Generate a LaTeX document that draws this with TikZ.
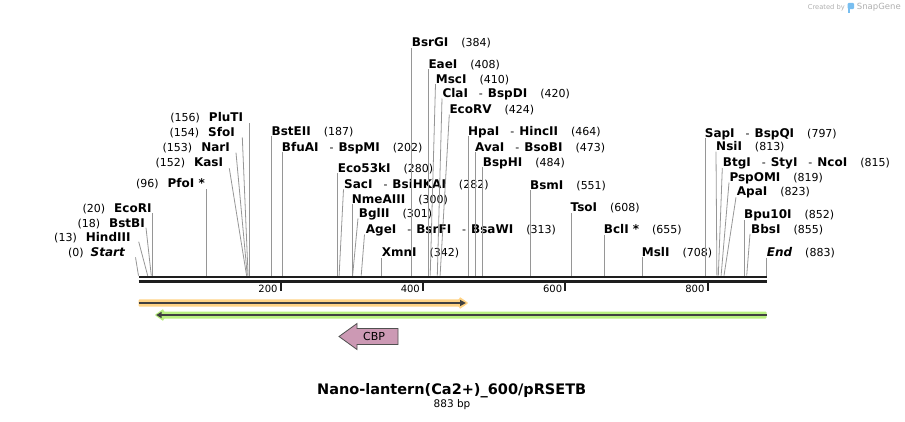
\documentclass[tikz,border=0pt]{standalone}
\usepackage{fontspec}
\setmainfont{DejaVu Sans}
\definecolor{cutgray}{RGB}{150,150,150}
\definecolor{dnablack}{RGB}{30,30,30}
\definecolor{orgband}{RGB}{255,211,133}
\definecolor{grnband}{RGB}{184,240,128}
\definecolor{featdark}{RGB}{64,64,64}
\definecolor{cbpfill}{RGB}{204,153,180}
\definecolor{cbpdraw}{RGB}{80,80,80}
\definecolor{logogray}{RGB}{175,175,175}
\definecolor{logoblue}{RGB}{120,190,240}
\newcommand{\nm}[1]{{\fontsize{12}{14}\selectfont\bfseries #1}}
\newcommand{\ps}[1]{{\fontsize{11}{13}\selectfont(#1)}}
\newcommand{\sepr}{{\fontsize{11}{13}\selectfont\hspace{11pt}-\hspace{5pt}}}
\newcommand{\gapn}{\hspace{13pt}}
% right-side label: id, x(left), y(center), content, line top x, line top y, site x
\newcommand{\siteR}[7]{%
  \node[lab,anchor=west] (#1) at (#2,#3) {#4};
  \coordinate (#1t) at (#5,#6);
  \coordinate (#1s) at (#7,275.7);
  \draw[cutline] (#1t) -- (#1s);}
% left-side label: id, x(right), y(center), content, line top x, line top y, site x
\newcommand{\siteL}[7]{%
  \node[lab,anchor=east] (#1) at (#2,#3) {#4};
  \coordinate (#1t) at (#5,#6);
  \coordinate (#1s) at (#7,275.7);
  \draw[cutline] (#1t) -- (#1s);}
\begin{document}
\begin{tikzpicture}[x=1pt,y=-1pt,
  lab/.style={inner sep=0pt,text height=8.7pt,text depth=0pt},
  cutline/.style={draw=cutgray,line width=0.8pt},
  dna/.style={draw=dnablack,line width=2.6pt},
  tickmark/.style={draw=dnablack,line width=2pt},
  ticklab/.style={inner sep=0pt,font=\fontsize{10}{12}\selectfont,anchor=east,text height=7.3pt,text depth=0pt},
]
\useasboundingbox (0,0) rectangle (905,421);

% cut site labels, left side
\siteL{Start}{125}{251.7}{\ps{0}\hspace{7pt}\nm{\itshape Start}}{135.5}{257.3}{138.5}
\siteL{HindIII}{130.7}{236.7}{\ps{13}\hspace{9pt}\nm{HindIII}}{138.7}{241.7}{147.7}
\siteL{BstBI}{145}{222.7}{\ps{18}\hspace{9pt}\nm{BstBI}}{146}{227.7}{151.3}
\siteL{EcoRI}{151.7}{207.7}{\ps{20}\hspace{9pt}\nm{EcoRI}}{152.8}{213.3}{152.8}
\siteL{PfoI}{205}{183.3}{\ps{96}\hspace{9pt}\nm{PfoI *}}{206.8}{189.3}{206.8}
\siteL{KasI}{223.3}{162.3}{\ps{152}\hspace{9pt}\nm{KasI}}{229.3}{168.3}{246.6}
\siteL{NarI}{230}{147.3}{\ps{153}\hspace{9pt}\nm{NarI}}{236}{152.7}{247.3}
\siteL{SfoI}{235}{132.3}{\ps{154}\hspace{9pt}\nm{SfoI}}{242.3}{137.3}{248.1}
\siteL{PluTI}{243.3}{116.7}{\ps{156}\hspace{9pt}\nm{PluTI}}{249.5}{123.3}{249.5}

% cut site labels, right side
\siteR{BstEII}{271.5}{131}{\nm{BstEII}\gapn\ps{187}}{271.5}{136}{271.5}
\siteR{BfuAI}{281.7}{146.7}{\nm{BfuAI}\sepr\nm{BspMI}\gapn\ps{202}}{282.2}{151.7}{282.2}
\siteR{Eco53kI}{337.7}{167.7}{\nm{Eco53kI}\gapn\ps{280}}{337.7}{173}{337.7}
\siteR{SacI}{344}{184}{\nm{SacI}\sepr\nm{BsiHKAI}\gapn\ps{282}}{343.5}{189.3}{339.1}
\siteR{NmeAIII}{351.7}{199}{\nm{NmeAIII}\gapn\ps{300}}{351.9}{204}{351.9}
\siteR{BglII}{358.7}{213.3}{\nm{BglII}\gapn\ps{301}}{358}{218.3}{352.6}
\siteR{AgeI}{365.7}{229}{\nm{AgeI}\sepr\nm{BsrFI}\sepr\nm{BsaWI}\gapn\ps{313}}{364.5}{234.5}{361.2}
\siteR{XmnI}{381.7}{252.3}{\nm{XmnI}\gapn\ps{342}}{381.8}{258}{381.8}
\siteR{BsrGI}{411.7}{42.3}{\nm{BsrGI}\gapn\ps{384}}{411.7}{48}{411.7}
\siteR{EaeI}{428.3}{64}{\nm{EaeI}\gapn\ps{408}}{428.7}{69.3}{428.7}
\siteR{MscI}{435.7}{79}{\nm{MscI}\gapn\ps{410}}{435.5}{84}{430.2}
\siteR{ClaI}{442.3}{93.3}{\nm{ClaI}\sepr\nm{BspDI}\gapn\ps{420}}{442}{98.5}{437.3}
\siteR{EcoRV}{449.3}{109}{\nm{EcoRV}\gapn\ps{424}}{449.3}{114.5}{440.1}
\siteR{HpaI}{468}{131}{\nm{HpaI}\sepr\nm{HincII}\gapn\ps{464}}{468.6}{136}{468.6}
\siteR{AvaI}{475}{147}{\nm{AvaI}\sepr\nm{BsoBI}\gapn\ps{473}}{475}{152}{475}
\siteR{BspHI}{482.7}{162}{\nm{BspHI}\gapn\ps{484}}{482.8}{167.3}{482.8}
\siteR{BsmI}{530}{185}{\nm{BsmI}\gapn\ps{551}}{530.5}{190}{530.5}
\siteR{TsoI}{570.5}{207}{\nm{TsoI}\gapn\ps{608}}{571}{213}{571}
\siteR{BclI}{603.7}{229.5}{\nm{BclI *}\gapn\ps{655}}{604.5}{235}{604.5}
\siteR{MslI}{641.7}{251.7}{\nm{MslI}\gapn\ps{708}}{642.2}{257.3}{642.2}
\siteR{SapI}{704.7}{132.7}{\nm{SapI}\sepr\nm{BspQI}\gapn\ps{797}}{705.5}{138.3}{705.5}
\siteR{NsiI}{716}{146.5}{\nm{NsiI}\gapn\ps{813}}{716}{151.7}{716.9}
\siteR{BtgI}{722.7}{162.3}{\nm{BtgI}\sepr\nm{StyI}\sepr\nm{NcoI}\gapn\ps{815}}{722.3}{168}{718.3}
\siteR{PspOMI}{729.3}{176.7}{\nm{PspOMI}\gapn\ps{819}}{729}{182.5}{721.1}
\siteR{ApaI}{736.7}{191.5}{\nm{ApaI}\gapn\ps{823}}{736}{197.3}{724}
\siteR{Bpu10I}{744}{214.3}{\nm{Bpu10I}\gapn\ps{852}}{744.6}{220}{744.6}
\siteR{BbsI}{751}{228.7}{\nm{BbsI}\gapn\ps{855}}{750}{234}{746.7}
\siteR{End}{766.7}{252.3}{\nm{\itshape End}\gapn\ps{883}}{766.7}{257.5}{766.7}

% DNA double line
\coordinate (a0) at (138.5,277);
\coordinate (a1) at (766.7,277);
\coordinate (b0) at (138.5,281.5);
\coordinate (b1) at (766.7,281.5);
\draw[dna] (a0) -- (a1);
\draw[dna] (b0) -- (b1);

% ticks
\foreach \bp in {200,400,600,800}{
  \pgfmathsetmacro\tx{138.5+0.7114*\bp}
  \coordinate (tk\bp) at (\tx,282.7);
  \coordinate (tke\bp) at (\tx,290.5);
  \draw[tickmark] (tk\bp) -- (tke\bp);
  \node[ticklab] (tl\bp) at (\tx-3,289) {\bp};
}

% orange feature
\fill[orgband,rounded corners=1pt] (138.5,299.3) -- (459.5,299.3) -- (459.5,296.8) -- (468.5,303) -- (459.5,309.2) -- (459.5,306.7) -- (138.5,306.7) -- cycle;
\draw[featdark,line width=2.5pt] (138.5,303) -- (461,303);
\fill[featdark] (460,299.8) -- (465.8,303) -- (460,306.2) -- cycle;

% green feature
\fill[grnband,rounded corners=1pt] (766.7,311.5) -- (163.5,311.5) -- (163.5,308.8) -- (154.5,315) -- (163.5,321.2) -- (163.5,318.5) -- (766.7,318.5) -- cycle;
\draw[featdark,line width=2.5pt] (766.7,315) -- (160.5,315);
\fill[featdark] (161.5,311.8) -- (156.3,315) -- (161.5,318.2) -- cycle;

% CBP
\draw[fill=cbpfill,draw=cbpdraw,line width=0.8pt] (339,336.5) -- (357,323.5) -- (357,328.5) -- (398,328.5) -- (398,344.5) -- (357,344.5) -- (357,349.5) -- cycle;
\node[font=\fontsize{11}{13}\selectfont,inner sep=0pt] (cbp) at (374,336.5) {CBP};

% title
\node[font=\fontsize{14.5}{17}\selectfont\bfseries,inner sep=0pt] (title) at (451.7,390.7) {Nano-lantern(Ca2+)\_600/pRSETB};
\node[font=\fontsize{10.5}{12}\selectfont,inner sep=0pt] (len) at (452,404.3) {883 bp};

% logo
\node[font=\fontsize{6.7}{8}\selectfont,text=logogray,anchor=west,inner sep=0pt] (cr) at (807.7,7.3) {Created by};
\fill[logoblue,rounded corners=1.2pt] (847.5,2.8) rectangle (854.2,9);
\fill[logoblue] (847.5,8) rectangle (850.3,12.8);
\node[font=\fontsize{8.5}{10}\selectfont,text=logogray,anchor=west,inner sep=0pt] (sg) at (856.7,7.3) {SnapGene};
\end{tikzpicture}
\end{document}
